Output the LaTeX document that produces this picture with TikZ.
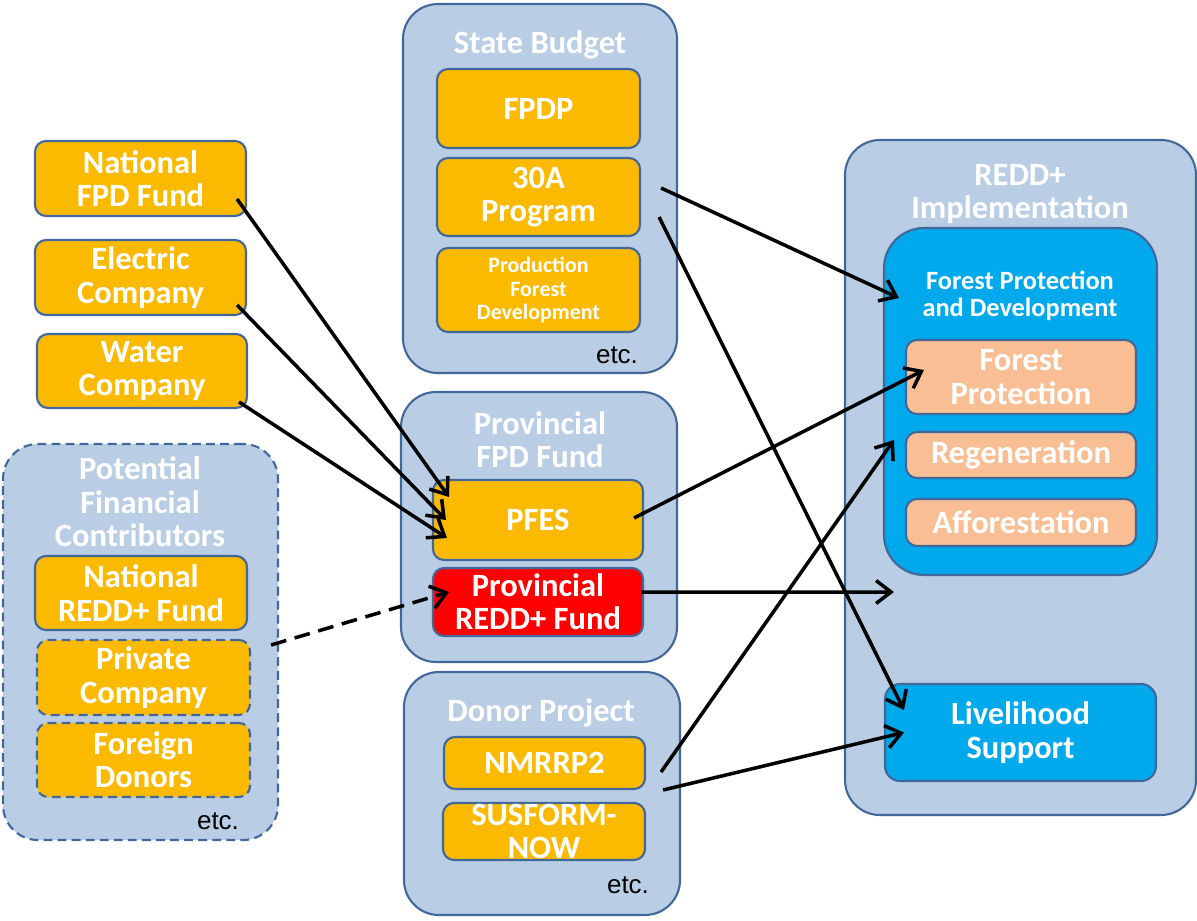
\documentclass[tikz,border=0pt]{standalone}
\usepackage{fontspec}
\setmainfont{Carlito}
\newfontfamily\etcfont{Liberation Sans}
\usetikzlibrary{arrows.meta}

\definecolor{panelfill}{HTML}{B9CDE5}
\definecolor{panelline}{HTML}{41679B}
\definecolor{gold}{HTML}{FBBA00}
\definecolor{fundred}{HTML}{FF0000}
\definecolor{skyblue}{HTML}{00A8EC}
\definecolor{peach}{HTML}{F9BE94}

\newcommand\fsz[2]{\fontsize{#1}{#2}\selectfont}

\begin{document}
\begin{tikzpicture}[x=0.02cm,y=-0.02cm,
  sz/.style 2 args={minimum width=#1*0.02cm, minimum height=#2*0.02cm},
  panel/.style={draw=panelline, fill=panelfill, line width=1.2pt,
    rounded corners=0.7cm, inner sep=0pt},
  box/.style={draw=panelline, fill=gold, line width=1.2pt,
    rounded corners=0.22cm, inner sep=0pt, align=center,
    text=white, font=\bfseries\fsz{18.5}{19}},
  redbox/.style={box, fill=fundred},
  bluebox/.style={box, fill=skyblue},
  peachbox/.style={box, fill=peach},
  dashbox/.style={box, dash pattern=on 5pt off 3pt},
  title/.style={text=white, align=center, font=\bfseries\fsz{18.5}{19}},
  etc/.style={font=\etcfont\fsz{14.8}{16}, text=black},
  flow/.style={line width=2pt, draw=black,
    -{Straight Barb[length=8.5pt,width=13pt,line width=2pt]}},
  dflow/.style={flow, dash pattern=on 9pt off 5pt}]

\useasboundingbox (0,0) rectangle (1197,920);

% ---- State budget ----
\node[panel, sz={274}{369}] (sb) at (540,188.5) {};
\node[title] (sbt) at (540,45) {State Budget};
\node[box, sz={203}{79}] (fpdp) at (538.5,108.5) {FPDP};
\node[box, sz={203}{78}] (p30a) at (538.5,197) {30A\\Program};
\node[box, sz={203}{84}, font=\bfseries\fsz{12.5}{13.5}] (pfd) at (538.5,290)
  {Production\\Forest\\Development};
\node[etc] (sbetc) at (617,355) {etc.};

% ---- Provincial FPD fund ----
\node[panel, sz={276}{270}] (pf) at (539,527) {};
\node[title] (pft) at (540,440) {Provincial\\FPD Fund};
\node[box, sz={210}{80}] (pfes) at (538,520) {PFES};
\node[redbox, sz={210}{68}] (predd) at (538,602) {Provincial\\REDD+ Fund};

% ---- Donor project ----
\node[panel, sz={276}{243}] (dp) at (542,793.5) {};
\node[title] (dpt) at (541,713) {Donor Project};
\node[box, sz={201}{52}] (nmr) at (544.5,763) {NMRRP2};
\node[box, sz={202}{57}] (sus) at (544,831.5) {SUSFORM-\\NOW};
\node[etc] (dpetc) at (628,885) {etc.};

% ---- Potential contributors ----
\node[panel, sz={275}{396}, dash pattern=on 5pt off 3pt] (pfc) at (140.5,642) {};
\node[title] (pfct) at (140,502) {Potential\\Financial\\Contributors};
\node[box, sz={212}{74}] (nredd) at (141,593) {National\\REDD+ Fund};
\node[dashbox, sz={213}{75}] (priv) at (143.5,677.5) {Private\\Company};
\node[dashbox, sz={213}{74}] (fdon) at (143.5,760) {Foreign\\Donors};
\node[etc] (pfcetc) at (218,821) {etc.};

% ---- Current payers ----
\node[box, sz={211}{75}] (nfpd) at (140.5,178.5) {National\\FPD Fund};
\node[box, sz={211}{75}] (elec) at (140.5,277.5) {Electric\\Company};
\node[box, sz={210}{74}] (water) at (142,371) {Water\\Company};

% ---- REDD+ implementation ----
\node[panel, sz={351}{675}] (ri) at (1020.5,477.5) {};
\node[title] (rit) at (1020,194) {REDD+\\Implementation};
\node[bluebox, sz={273}{347}, rounded corners=0.8cm] (fpd) at (1020.5,401.5) {};
\node[title, font=\bfseries\fsz{15}{15.5}] (fpdt) at (1020,296)
  {Forest Protection\\and Development};
\node[peachbox, sz={230}{74}] (fprot) at (1021,377) {Forest\\Protection};
\node[peachbox, sz={230}{46}] (regen) at (1021,455) {Regeneration};
\node[peachbox, sz={230}{47}] (affor) at (1021,522.5) {Afforestation};
\node[bluebox, sz={271}{97}, rounded corners=0.3cm] (liv) at (1020.5,732.5)
  {Livelihood\\Support};

% ---- Money flows ----
\draw[flow] ([shift={(-10,20.5)}]nfpd.east) -- ([shift={(17,-23)}]pfes.west);
\draw[flow] ([shift={(-10,27.5)}]elec.east) -- ([shift={(14,0)}]pfes.west);
\draw[flow] ([shift={(-9,31)}]water.east) -- ([shift={(15,18)}]pfes.west);
\draw[dflow] ([shift={(-8,3)}]pfc.east) -- ([shift={(17,-10)}]predd.west);
\draw[flow] ([shift={(20,-9)}]p30a.east) -- ([shift={(16,-103.5)}]fpd.west);
\draw[flow] ([shift={(18,20)}]p30a.east) -- ([shift={(20,-22.5)}]liv.west);
\draw[flow] ([shift={(-10,-2)}]pfes.east) -- ([shift={(19,-7)}]fprot.west);
\draw[flow] ([shift={(-3,-10)}]predd.east) -- ([shift={(50,114.5)}]ri.west);
\draw[flow] ([shift={(15,9)}]nmr.east) -- ([shift={(11,38.5)}]fpd.west);
\draw[flow] ([shift={(17,27)}]nmr.east) -- ([shift={(20,0)}]liv.west);
\end{tikzpicture}
\end{document}
